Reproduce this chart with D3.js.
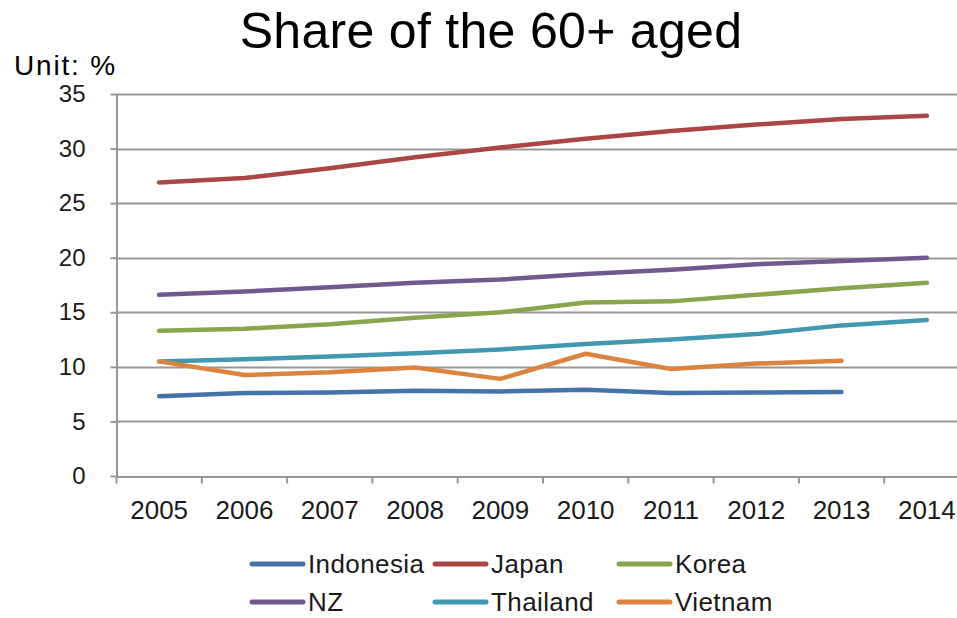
<!DOCTYPE html>
<html>
<head>
<meta charset="utf-8">
<script src="https://cdn.jsdelivr.net/npm/d3@7/dist/d3.min.js"></script>
<style>
  html, body { margin: 0; padding: 0; background: #fff; overflow: hidden; }
  svg { display: block; font-family: "Liberation Sans", Arial, sans-serif; }
</style>
</head>
<body>
<svg id="chart" width="957" height="618"></svg>
<script>
const years = ["2005","2006","2007","2008","2009","2010","2011","2012","2013","2014"];
const yTicks = [0,5,10,15,20,25,30,35];
const indonesia = [7.3, 7.6, 7.65, 7.8, 7.75, 7.9, 7.6, 7.65, 7.7, null];
const japan     = [26.9, 27.3, 28.2, 29.2, 30.1, 30.9, 31.6, 32.2, 32.7, 33.0];
const korea     = [13.3, 13.5, 13.9, 14.5, 15.0, 15.9, 16.0, 16.6, 17.2, 17.7];
const nz        = [16.6, 16.9, 17.3, 17.7, 18.0, 18.5, 18.9, 19.4, 19.7, 20.0];
const thailand  = [10.5, 10.7, 10.95, 11.25, 11.6, 12.1, 12.5, 13.0, 13.8, 14.3];
const vietnam   = [10.5, 9.25, 9.5, 9.95, 8.9, 11.2, 9.8, 10.3, 10.55, null];
const seriesNames = ["Indonesia","Japan","Korea","NZ","Thailand","Vietnam"];
const seriesColors = ["#4572A7","#AA4643","#89A54E","#71588F","#4198AF","#DB843D"];
const seriesValues = [indonesia, japan, korea, nz, thailand, vietnam];

const svg = d3.select("#chart");
const x = d3.scaleBand().domain(years).range([116.5, 969.5]);
const y = d3.scaleLinear().domain([0, 35]).range([476, 94]);
const gridColor = "#979797";

// Title
svg.append("text").attr("x", 491).attr("y", 48).attr("text-anchor", "middle")
  .attr("font-size", 50).attr("letter-spacing", 0.3).attr("fill", "#000").text("Share of the 60+ aged");
svg.append("text").attr("x", 14).attr("y", 75)
  .attr("font-size", 28).attr("letter-spacing", 1.8).attr("fill", "#000").text("Unit: %");

// Gridlines
svg.append("g").selectAll("line").data(yTicks.filter(d => d > 0)).join("line")
  .attr("x1", 116.5).attr("x2", 957)
  .attr("y1", d => Math.round(y(d)) + 0.5).attr("y2", d => Math.round(y(d)) + 0.5)
  .attr("stroke", gridColor).attr("stroke-width", 2);

// Y axis
const yAxis = svg.append("g").attr("transform", "translate(116.5,0)")
  .call(d3.axisLeft(y).tickValues(yTicks).tickSize(6).tickPadding(25).tickSizeOuter(0));
yAxis.select(".domain").attr("stroke", gridColor).attr("stroke-width", 2);
yAxis.selectAll(".tick line").attr("stroke", gridColor).attr("stroke-width", 2);
yAxis.selectAll(".tick text").attr("font-size", 24).attr("fill", "#1a1a1a")
  .attr("font-family", "Liberation Sans, Arial, sans-serif");

// X axis
const xAxis = svg.append("g").attr("transform", "translate(0,476.5)")
  .call(d3.axisBottom(x).tickValues([]).tickSizeOuter(0));
xAxis.select(".domain").attr("stroke", gridColor).attr("stroke-width", 2);
const edges = years.map(d => x(d)).concat([x(years[years.length-1]) + x.bandwidth()]);
xAxis.selectAll("line.tk").data(edges).join("line").attr("class", "tk")
  .attr("x1", d => d).attr("x2", d => d).attr("y1", 0).attr("y2", 7)
  .attr("stroke", gridColor).attr("stroke-width", 2);
xAxis.selectAll("text.lbl").data(years).join("text").attr("class", "lbl")
  .attr("x", d => x(d) + x.bandwidth() / 2).attr("y", 42)
  .attr("text-anchor", "middle").attr("font-size", 26).attr("fill", "#1a1a1a")
  .text(d => d);

// Lines
const line = d3.line()
  .defined(d => d.v != null)
  .x(d => x(d.year) + x.bandwidth() / 2)
  .y(d => y(d.v));
seriesValues.forEach((vals, i) => {
  const data = years.map((yr, j) => ({year: yr, v: vals[j]}));
  svg.append("path").datum(data).attr("d", line)
    .attr("fill", "none").attr("stroke", seriesColors[i]).attr("stroke-width", 4.5)
    .attr("stroke-linecap", "round").attr("stroke-linejoin", "round");
});

// Legend
const legX = [250, 433, 617];
const legY = [564, 602];
const leg = svg.append("g");
seriesNames.forEach((name, i) => {
  const cx = legX[i % 3], cy = legY[Math.floor(i / 3)];
  leg.append("line").attr("x1", cx + 2).attr("x2", cx + 53).attr("y1", cy).attr("y2", cy)
    .attr("stroke", seriesColors[i]).attr("stroke-width", 5).attr("stroke-linecap", "round");
  leg.append("text").attr("x", cx + 58).attr("y", cy + 9)
    .attr("font-size", 26).attr("letter-spacing", 0.4).attr("fill", "#1a1a1a").text(name);
});
</script>
</body>
</html>
